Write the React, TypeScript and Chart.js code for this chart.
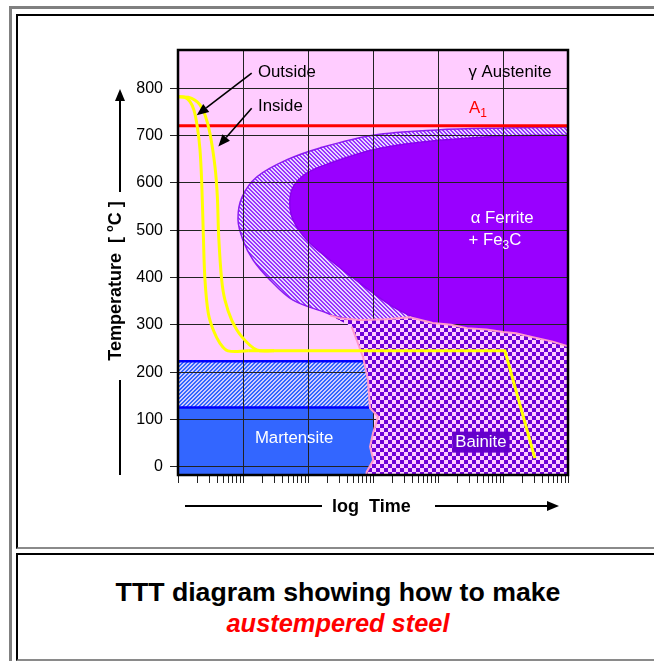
import React, { useEffect, useRef } from 'react';
import { Chart, registerables } from 'chart.js';

Chart.register(...registerables);

const FONT = "'Liberation Sans', Arial, sans-serif";

// ---- axes ----
const TIME_MIN = 1;
const TIME_MAX = 1e6;
const TEMP_MIN = -17.5;
const TEMP_MAX = 881;
const temperatureTicks = [0, 100, 200, 300, 400, 500, 600, 700, 800];
const timeDecades = [1, 10, 100, 1000, 10000, 100000];
const decadeMultipliers = [1, 2, 3, 4, 5, 6, 7, 8, 9];

// ---- A1, Ms, Mf lines ----
const a1Time = [0.8, 1.3e6];
const a1Temp = [721, 721];
const msTime = [0.95, 1000];
const msTemp = [223, 223];
const mfTime = [0.95, 1000];
const mfTemp = [125, 125];

// ---- pearlite start (hatched) ----
const pearliteStartTime = [1.3e6, 1e6, 103500, 9660, 1000, 153, 47.5, 16.4, 9.66, 8.38, 10, 14.3, 26, 58.9, 195, 260, 2000, 1.3e6];
const pearliteStartTemp = [718, 718, 716, 712, 701, 674, 649, 613, 570, 522, 479, 437, 395, 352, 325, 318, 295, 200];

// ---- pearlite finish (solid) ----
const pearliteFinishTime = [1.3e6, 1e6, 103500, 5250, 1000, 219, 96.6, 58.9, 52.5, 58.9, 96.6, 219, 631, 2040, 5250, 30000, 1.3e6];
const pearliteFinishTemp = [701, 701, 699, 686, 670, 642, 621, 591, 557, 522, 479, 437, 388, 338, 310, 260, 220];

// ---- martensite ----
const martHatchTime = [0.8, 1000, 1000, 0.8];
const martHatchTemp = [125, 125, 223, 223];
const martSolidTime = [0.8, 1000, 1000, 0.8];
const martSolidTemp = [-40, -40, 125, 125];

// ---- bainite ----
const bainiteTime = [218, 311, 631, 1585, 3715, 8318, 15850, 27900, 56200, 100000, 158500, 288000, 562000, 1.3e6, 1.3e6, 760, 800, 1010, 900, 1000, 1194, 900, 837, 702, 561, 470];
const bainiteTemp = [320, 314, 310, 312, 316, 304, 300, 293, 290, 285, 282, 274, 265, 250, -40, -40, -11, 14, 42, 71, 106, 124, 183, 232, 268, 296];

// ---- cooling paths ----
const outsideTime = [1.03, 1.28, 1.53, 1.76, 1.98, 2.18, 2.32, 2.45, 2.6, 2.92, 3.49, 4.43, 5.87, 12];
const outsideTemp = [782, 781, 772, 754, 719, 670, 599, 493, 395, 325, 289, 261, 245, 245];
const insideTime = [1.03, 1.44, 1.83, 2.18, 2.6, 3.1, 3.71, 4.03, 4.23, 4.7, 5.28, 6.7, 9.55, 16.2, 30];
const insideTemp = [782, 781, 775, 765, 744, 705, 634, 571, 486, 395, 352, 310, 275, 247, 245];
const holdTime = [12, 107000, 309000];
const holdTemp = [245, 245, 18];

type Piece = { s: string; sub?: boolean };
type Label = { pieces: Piece[]; time: number; temp: number; color: string; align: 'left' | 'center'; box?: string };

const plotLabels: Label[] = [
  { pieces: [{ s: 'Outside' }], time: 17, temp: 833, color: '#000', align: 'left' },
  { pieces: [{ s: 'Inside' }], time: 17, temp: 761, color: '#000', align: 'left' },
  { pieces: [{ s: 'γ Austenite' }], time: 128000, temp: 834, color: '#000', align: 'center' },
  { pieces: [{ s: 'A' }, { s: '1', sub: true }], time: 30000, temp: 758, color: '#FF0000', align: 'left' },
  { pieces: [{ s: 'α Ferrite' }], time: 97000, temp: 526, color: '#FFFFFF', align: 'center' },
  { pieces: [{ s: '+ Fe' }, { s: '3', sub: true }, { s: 'C' }], time: 75300, temp: 479, color: '#FFFFFF', align: 'center' },
  { pieces: [{ s: 'Martensite' }], time: 61, temp: 59, color: '#FFFFFF', align: 'center' },
  { pieces: [{ s: 'Bainite' }], time: 45700, temp: 52, color: '#FFFFFF', align: 'center', box: '#6600CC' },
];

const labelArrows = [
  { fromTime: 13.6, fromTemp: 832, toTime: 1.94, toTemp: 743 },
  { fromTime: 13.6, fromTemp: 758, toTime: 4.17, toTemp: 677 },
];

const zip = (t: number[], v: number[]) => t.map((x, i) => ({ x, y: v[i] }));

function makePattern(size: number, fn: (x: number, y: number) => string): CanvasPattern | string {
  const c = document.createElement('canvas');
  c.width = size;
  c.height = size;
  const g = c.getContext('2d');
  if (!g) return '#999';
  for (let y = 0; y < size; y++) {
    for (let x = 0; x < size; x++) {
      g.fillStyle = fn(x, y);
      g.fillRect(x, y, 1, 1);
    }
  }
  return g.createPattern(c, 'repeat') || '#999';
}

function drawArrow(ctx: CanvasRenderingContext2D, x1: number, y1: number, x2: number, y2: number, lw: number, headLen: number, headW: number) {
  const ang = Math.atan2(y2 - y1, x2 - x1);
  const bx = x2 - headLen * Math.cos(ang);
  const by = y2 - headLen * Math.sin(ang);
  ctx.lineWidth = lw;
  ctx.beginPath();
  ctx.moveTo(x1, y1);
  ctx.lineTo(bx, by);
  ctx.stroke();
  ctx.beginPath();
  ctx.moveTo(x2, y2);
  ctx.lineTo(bx + (headW / 2) * Math.sin(ang), by - (headW / 2) * Math.cos(ang));
  ctx.lineTo(bx - (headW / 2) * Math.sin(ang), by + (headW / 2) * Math.cos(ang));
  ctx.closePath();
  ctx.fill();
}

function richWidth(ctx: CanvasRenderingContext2D, pieces: Piece[], size: number, weight: string) {
  let w = 0;
  for (const p of pieces) {
    ctx.font = `${weight} ${p.sub ? Math.round(size * 0.7) : size}px ${FONT}`;
    w += ctx.measureText(p.s).width;
  }
  return w;
}

function drawRich(ctx: CanvasRenderingContext2D, pieces: Piece[], x: number, y: number, size: number, weight: string, color: string) {
  let cx = x;
  ctx.fillStyle = color;
  ctx.textBaseline = 'middle';
  ctx.textAlign = 'left';
  for (const p of pieces) {
    ctx.font = `${weight} ${p.sub ? Math.round(size * 0.7) : size}px ${FONT}`;
    ctx.fillText(p.s, cx, y + (p.sub ? size * 0.3 : 0));
    cx += ctx.measureText(p.s).width;
  }
}

export default function App() {
  const ref = useRef<HTMLCanvasElement>(null);

  useEffect(() => {
    if (!ref.current) return;
    const pearliteHatch = makePattern(4, (x, y) => ((x - y + 8) % 4 < 2 ? '#9933FF' : '#E8D8FF'));
    const martHatch = makePattern(4, (x, y) => ((x + y) % 4 < 2 ? '#3366FF' : '#CCCCFF'));
    const bainiteChecker = makePattern(8, (x, y) => (((x >> 2) + (y >> 2)) % 2 ? '#6E00D8' : '#FFCCFF'));

    const xTickValues: number[] = [];
    for (const d of timeDecades) for (const m of decadeMultipliers) xTickValues.push(d * m);
    xTickValues.push(TIME_MAX);
    const isDecade = (v: number) => Math.abs(Math.log10(v) - Math.round(Math.log10(v))) < 1e-9;
    const GRID = '#222222';
    const LABEL_SIZE = 16.8;

    const plugin = {
      id: 'tttDecor',
      beforeDraw(chart: any) {
        const { ctx, chartArea: a } = chart;
        ctx.save();
        ctx.fillStyle = '#FFCCFF';
        ctx.fillRect(a.left, a.top, a.right - a.left, a.bottom - a.top);
        ctx.restore();
      },
      afterDatasetDraw(chart: any, args: any) {
        const ds = chart.data.datasets[args.index];
        if (ds && ds.label === 'Mf') {
          chart.scales.x.drawGrid(chart.chartArea);
          chart.scales.y.drawGrid(chart.chartArea);
        }
      },
      afterDatasetsDraw(chart: any) {
        const { ctx, chartArea: a } = chart;
        ctx.save();
        ctx.strokeStyle = '#000';
        ctx.lineWidth = 2.5;
        ctx.strokeRect(a.left, a.top, a.right - a.left, a.bottom - a.top);
        ctx.restore();
      },
      afterDraw(chart: any) {
        const { ctx, chartArea: a } = chart;
        const xs = chart.scales.x;
        const ys = chart.scales.y;
        ctx.save();
        ctx.strokeStyle = '#000';
        ctx.fillStyle = '#000';
        for (const ar of labelArrows) {
          drawArrow(ctx, xs.getPixelForValue(ar.fromTime), ys.getPixelForValue(ar.fromTemp), xs.getPixelForValue(ar.toTime), ys.getPixelForValue(ar.toTemp), 1.6, 12, 10);
        }
        for (const lb of plotLabels) {
          const w = richWidth(ctx, lb.pieces, LABEL_SIZE, 'normal');
          const cx = xs.getPixelForValue(lb.time);
          const cy = ys.getPixelForValue(lb.temp);
          const left = lb.align === 'center' ? cx - w / 2 : cx;
          if (lb.box) {
            ctx.fillStyle = lb.box;
            ctx.fillRect(left - 3, cy - 10.5, w + 6, 21);
          }
          drawRich(ctx, lb.pieces, left, cy, LABEL_SIZE, 'normal', lb.color);
        }
        // y title with arrow
        const yx = a.left - 58;
        ctx.strokeStyle = '#000';
        ctx.fillStyle = '#000';
        drawArrow(ctx, yx, a.top + 142, yx, a.top + 39, 2, 12, 10);
        ctx.lineWidth = 2;
        ctx.beginPath();
        ctx.moveTo(yx, a.top + 330);
        ctx.lineTo(yx, a.bottom);
        ctx.stroke();
        ctx.save();
        ctx.translate(a.left - 62, a.top + 231);
        ctx.rotate(-Math.PI / 2);
        const p1 = 'Temperature  [ ';
        const p2 = 'o';
        const p3 = 'C ]';
        ctx.font = `bold 18px ${FONT}`;
        const w1 = ctx.measureText(p1).width;
        const w3 = ctx.measureText(p3).width;
        ctx.font = `bold 11px ${FONT}`;
        const w2 = ctx.measureText(p2).width;
        let tx = -(w1 + w2 + w3) / 2;
        ctx.textBaseline = 'middle';
        ctx.textAlign = 'left';
        ctx.font = `bold 18px ${FONT}`;
        ctx.fillText(p1, tx, 0);
        tx += w1;
        ctx.font = `bold 11px ${FONT}`;
        ctx.fillText(p2, tx, -6);
        tx += w2;
        ctx.font = `bold 18px ${FONT}`;
        ctx.fillText(p3, tx, 0);
        ctx.restore();
        // x title with arrow
        const xy = a.bottom + 31;
        ctx.lineWidth = 2;
        ctx.beginPath();
        ctx.moveTo(a.left + 7, xy);
        ctx.lineTo(a.left + 144, xy);
        ctx.stroke();
        drawArrow(ctx, a.left + 257, xy, a.right - 9, xy, 2, 12, 10);
        ctx.font = `bold 18px ${FONT}`;
        ctx.textAlign = 'left';
        ctx.textBaseline = 'alphabetic';
        ctx.fillStyle = '#000';
        ctx.fillText('log  Time', a.left + 154, a.bottom + 37);
        ctx.restore();
      },
    };

    const common = { pointRadius: 0, pointHoverRadius: 0 };
    const chart = new Chart(ref.current, {
      type: 'line',
      data: {
        datasets: [
          { ...common, label: 'Outside', data: zip(outsideTime, outsideTemp), borderColor: '#FFFF00', borderWidth: 3, fill: false, tension: 0.35, order: 2 },
          { ...common, label: 'Inside', data: zip(insideTime, insideTemp), borderColor: '#FFFF00', borderWidth: 3, fill: false, tension: 0.35, order: 3 },
          { ...common, label: 'Hold', data: zip(holdTime, holdTemp), borderColor: '#FFFF00', borderWidth: 3, fill: false, tension: 0, order: 4 },
          { ...common, label: 'A1', data: zip(a1Time, a1Temp), borderColor: '#FF0000', borderWidth: 3, fill: false, tension: 0, order: 5 },
          { ...common, label: 'Bainite', data: zip(bainiteTime, bainiteTemp), borderColor: '#FF99CC', borderWidth: 2, backgroundColor: bainiteChecker, fill: 'shape', tension: 0, order: 6 },
          { ...common, label: 'Mf', data: zip(mfTime, mfTemp), borderColor: '#0000FF', borderWidth: 2.5, fill: false, tension: 0, order: 7 },
          { ...common, label: 'Ms', data: zip(msTime, msTemp), borderColor: '#0000FF', borderWidth: 2.5, fill: false, tension: 0, order: 8 },
          { ...common, label: 'Martensite', data: zip(martSolidTime, martSolidTemp), borderWidth: 0, borderColor: 'rgba(0,0,0,0)', backgroundColor: '#3366FF', fill: 'shape', tension: 0, order: 9 },
          { ...common, label: 'MartHatch', data: zip(martHatchTime, martHatchTemp), borderWidth: 0, borderColor: 'rgba(0,0,0,0)', backgroundColor: martHatch, fill: 'shape', tension: 0, order: 10 },
          { ...common, label: 'PearliteFinish', data: zip(pearliteFinishTime, pearliteFinishTemp), borderWidth: 1.5, borderColor: '#8800EE', backgroundColor: '#9900FF', fill: 'shape', tension: 0.35, order: 11 },
          { ...common, label: 'PearliteStart', data: zip(pearliteStartTime, pearliteStartTemp), borderWidth: 1.5, borderColor: '#8A1CF0', backgroundColor: pearliteHatch, fill: 'shape', tension: 0.35, order: 12 },
        ] as any,
      },
      options: {
        animation: false,
        responsive: false,
        events: [],
        layout: { padding: { left: 0, top: 50, right: 86, bottom: 0 } },
        plugins: { legend: { display: false }, tooltip: { enabled: false } },
        scales: {
          x: {
            type: 'logarithmic',
            min: TIME_MIN,
            max: TIME_MAX,
            afterBuildTicks: (s: any) => {
              s.ticks = xTickValues.map((v) => ({ value: v }));
            },
            afterFit: (s: any) => {
              s.height = 73;
            },
            ticks: { display: false },
            grid: {
              color: (c: any) => (c.tick && isDecade(c.tick.value) ? GRID : 'rgba(0,0,0,0)'),
              tickColor: GRID,
              tickLength: 8,
              lineWidth: 1,
            },
            border: { display: false },
          },
          y: {
            type: 'linear',
            min: TEMP_MIN,
            max: TEMP_MAX,
            afterBuildTicks: (s: any) => {
              s.ticks = temperatureTicks.map((v) => ({ value: v }));
            },
            afterFit: (s: any) => {
              s.width = 178;
            },
            ticks: { font: { family: FONT, size: 16 }, color: '#000', padding: 7 },
            grid: { color: GRID, tickColor: GRID, tickLength: 8, lineWidth: 1 },
            border: { display: false },
          },
        },
      } as any,
      plugins: [plugin],
    });
    return () => chart.destroy();
  }, []);

  return (
    <div style={{ position: 'absolute', left: 0, top: 0, width: 654, height: 661, overflow: 'hidden', background: '#fff', fontFamily: FONT }}>
      <div style={{ position: 'absolute', left: 9, top: 6, width: 700, height: 700, borderTop: '3px solid #808080', borderLeft: '3px solid #808080' }} />
      <div style={{ position: 'absolute', left: 16, top: 14, width: 700, height: 535, boxSizing: 'border-box', borderTop: '2px solid #000', borderLeft: '2px solid #000', borderBottom: '2px solid #8a8a8a' }} />
      <div style={{ position: 'absolute', left: 16, top: 553, width: 700, height: 108, boxSizing: 'border-box', borderTop: '2px solid #000', borderLeft: '2px solid #000', borderBottom: '2px solid #8a8a8a' }} />
      <canvas ref={ref} width={654} height={548} style={{ position: 'absolute', left: 0, top: 0 }} />
      <div style={{ position: 'absolute', left: 17, top: 577, width: 642, textAlign: 'center', fontWeight: 'bold', color: '#000' }}>
        <div style={{ fontSize: 26.7, lineHeight: '31px' }}>TTT diagram showing how to make</div>
        <div style={{ fontSize: 25.4, lineHeight: '30px', color: '#FF0000', fontStyle: 'italic' }}>austempered steel</div>
      </div>
    </div>
  );
}
